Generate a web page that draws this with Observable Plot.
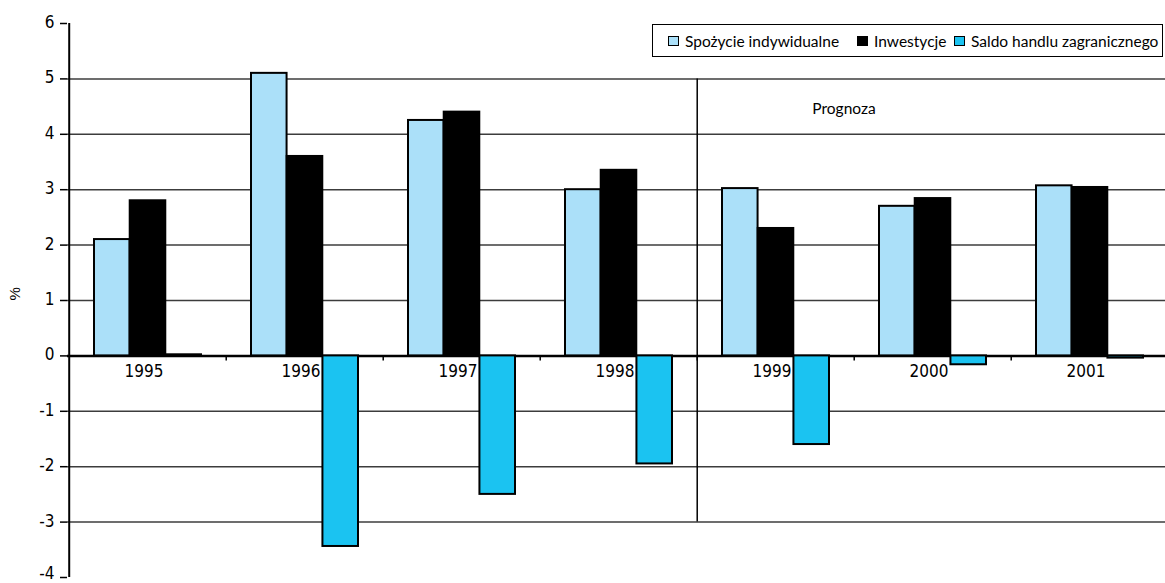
<!DOCTYPE html>
<html>
<head>
<meta charset="utf-8">
<script src="https://cdn.jsdelivr.net/npm/d3@7"></script>
<script src="https://cdn.jsdelivr.net/npm/@observablehq/plot@0.6"></script>
<style>
  body { margin: 0; background: #fff; overflow: hidden; }
  #chart { position: relative; width: 1165px; height: 583px; }
  .legend {
    position: absolute; left: 652px; top: 24px; width: 511px; height: 33px;
    box-sizing: border-box; border: 1.5px solid #000; background: #fff;
    font-family: Lato, "Open Sans", sans-serif; font-size: 15.5px; color: #000;
  }
  .legend .item { position: absolute; top: 0; height: 100%; display: flex; align-items: center; white-space: nowrap; }
  .legend .sw { display: inline-block; width: 9px; height: 8px; border: 1px solid #000; margin-right: 6px; }
</style>
</head>
<body>
<div id="chart"></div>
<script>
// Growth contributions, per cent
const years = ["1995", "1996", "1997", "1998", "1999", "2000", "2001"];
const spozycie = [2.1, 5.1, 4.25, 3.0, 3.02, 2.7, 3.07];
const inwestycje = [2.8, 3.6, 4.4, 3.35, 2.3, 2.84, 3.04];
const saldo = [0.02, -3.44, -2.5, -1.95, -1.6, -0.16, -0.04];

const seriesNames = ["Spożycie indywidualne", "Inwestycje", "Saldo handlu zagranicznego"];
const seriesColors = ["#abe0f9", "#000000", "#1bc3f1"];

const yTicks = [6, 5, 4, 3, 2, 1, 0, -1, -2, -3, -4];
const gridValues = [5, 4, 3, 2, 1, -1, -2, -3];
const forecastStart = "1999";
const forecastLabel = "Prognoza";
const yLabel = "%";

const rows = years.map((year, i) => ({
  year, spozycie: spozycie[i], inwestycje: inwestycje[i], saldo: saldo[i]
}));

// Layout of the category bands
const width = 1165, height = 583;
const xRange = [67, 1170];
const padInner = 0.32;
const step = (xRange[1] - xRange[0]) / years.length;
const bandW = step * (1 - padInner);
const barW = bandW / 3;

const tickFont = '"Liberation Sans Narrow", "Arial Narrow", "DejaVu Sans Condensed", sans-serif';
const textFont = 'Lato, "Open Sans", sans-serif';

function series(key, i) {
  const fill = seriesColors[i];
  return Plot.barY(rows, {
    x: "year", y: key, fill, stroke: "#000", strokeWidth: 2,
    insetLeft: i * barW, insetRight: (2 - i) * barW
  });
}

const yMin = yTicks[yTicks.length - 1];
const tickLabel = { frameAnchor: "left", textAnchor: "end", dx: -13, fontSize: 17, fontFamily: tickFont };

const chart = Plot.plot({
  width, height,
  marginLeft: 67, marginRight: 0, marginTop: 23, marginBottom: 6,
  style: { background: "#fff", color: "#000", fontFamily: tickFont },
  x: { type: "band", domain: years, range: xRange, paddingInner: padInner, paddingOuter: padInner / 2, axis: null },
  y: { domain: [-4, 6], range: [577, 23], axis: null },
  marks: [
    Plot.ruleY(gridValues, { stroke: "#3c3c3c", strokeWidth: 1.5 }),
    Plot.ruleY([0], { stroke: "#000", strokeWidth: 2.5 }),
    // category separators on the zero line
    Plot.ruleX(years.slice(1), { x: d => d, dx: -step / 2, y1: 0, y2: -0.09, stroke: "#000", strokeWidth: 1.5 }),
    // forecast divider
    Plot.ruleX([forecastStart], { x: d => d, dx: -step / 2, y1: -3, y2: 5, stroke: "#000", strokeWidth: 1.5 }),
    Plot.text(years, { x: d => d, y: 0, dy: 9, dx: -4, lineAnchor: "top", fontSize: 17, fontFamily: tickFont }),
    Plot.text([forecastLabel], { x: () => forecastStart, y: 4.45, dx: 68, fontSize: 15.5, fontFamily: textFont }),
    series("spozycie", 0),
    series("inwestycje", 1),
    series("saldo", 2),
    // value axis
    Plot.ruleX([years[0]], { x: d => d, dx: -step / 2, y1: -4, y2: 6, stroke: "#000", strokeWidth: 2 }),
    Plot.axisY({ ticks: yTicks, tickSize: 7, tickFormat: () => "", stroke: "#000", strokeWidth: 1.5, label: null }),
    Plot.text(yTicks.filter(d => d !== yMin), { ...tickLabel, y: d => d, text: d => String(d), dy: -1 }),
    Plot.text([yMin], { ...tickLabel, y: d => d, text: d => String(d), dy: -4 }),
    Plot.text([yLabel], { frameAnchor: "left", dx: -52, rotate: -90, fontSize: 15, fontFamily: '"Liberation Sans", Arial, sans-serif' })
  ]
});

const root = document.getElementById("chart");
root.appendChild(chart);

// Legend box in the top-right corner
const legend = document.createElement("div");
legend.className = "legend";
const itemLeft = [15, 204, 301];
seriesNames.forEach((name, i) => {
  const item = document.createElement("div");
  item.className = "item";
  item.style.left = itemLeft[i] + "px";
  const sw = document.createElement("span");
  sw.className = "sw";
  sw.style.background = seriesColors[i];
  item.appendChild(sw);
  item.appendChild(document.createTextNode(name));
  legend.appendChild(item);
});
root.appendChild(legend);
</script>
</body>
</html>
